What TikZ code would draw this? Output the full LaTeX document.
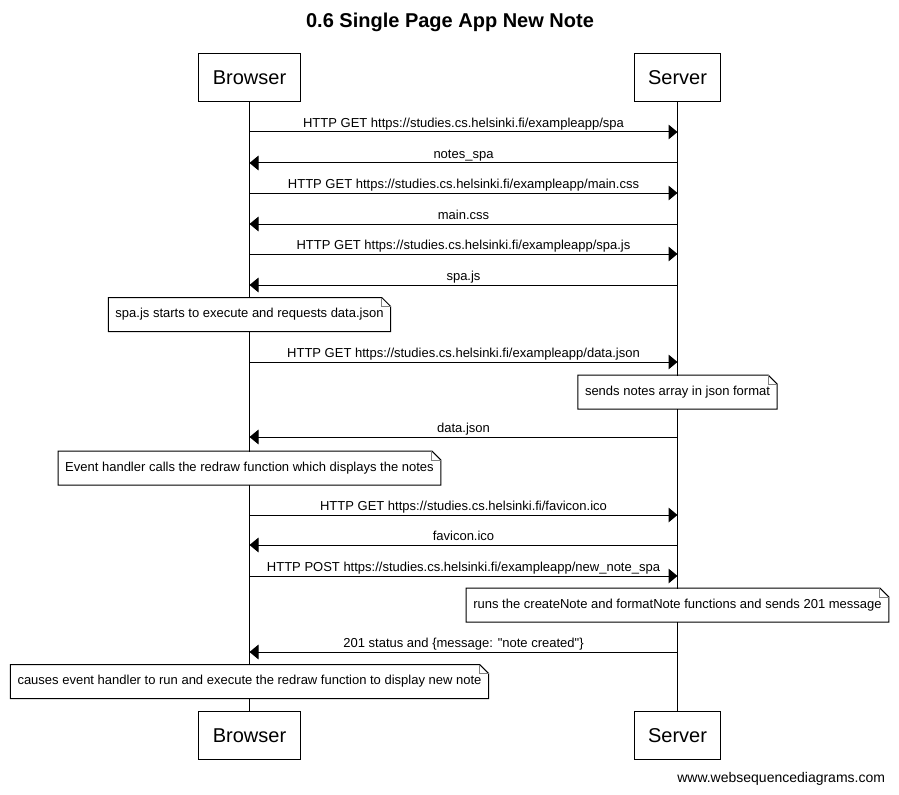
\documentclass[tikz,border=0pt]{standalone}
\usepackage{fontspec}
\setmainfont{Liberation Sans}
\usetikzlibrary{arrows.meta, calc, positioning}
\tikzset{
 actor/.style={draw, rectangle, minimum height=36pt, inner xsep=10.5pt, font=\fontsize{15}{18}\selectfont},
 note/.style={fill=white, rectangle, minimum height=24.75pt, inner xsep=5pt, font=\fontsize{9.75}{12}\selectfont},
 msg/.style={-{Triangle[length=6.75pt,width=11pt]}},
 lbl/.style={above, inner sep=1pt, text depth=0.22em, font=\fontsize{9.75}{12}\selectfont}
}
\newcommand*{\dogear}[1]{%
 \draw (#1.north west) -- ($(#1.north east)+(-9,0)$) -- ($(#1.north east)+(0,9)$) -- (#1.south east) -- (#1.south west) -- cycle;
 \draw[gray] ($(#1.north east)+(-9,0)$) |- ($(#1.north east)+(0,9)$);
}

\begin{document}
\begin{tikzpicture}[x=0.75pt, y=-0.75pt, line width=0.75pt]
 \useasboundingbox (0,0) rectangle (899,795);
 \node[font=\bfseries\fontsize{15}{18}\selectfont] (title) at (450,22.5) {0.6 Single Page App New Note};
 \node[actor] (b) at (249.5,77.5) {Browser};
 \node[actor] (s) at (677.5,77.5) {Server};
 \node[actor] (bb) at (249.5,735.5) {Browser};
 \node[actor] (sb) at (677.5,735.5) {Server};
 \draw (b) -- (bb);
 \draw (s) -- (sb);
 % loading the page
 \draw[msg] (b |- 0,132) -- node[lbl] {HTTP GET https://studies.cs.helsinki.fi/exampleapp/spa} (s |- 0,132);
 \draw[msg] (s |- 0,163) -- node[lbl] {notes\_spa} (b |- 0,163);
 \draw[msg] (b |- 0,193) -- node[lbl] {HTTP GET https://studies.cs.helsinki.fi/exampleapp/main.css} (s |- 0,193);
 \draw[msg] (s |- 0,224) -- node[lbl] {main.css} (b |- 0,224);
 \draw[msg] (b |- 0,254) -- node[lbl] {HTTP GET https://studies.cs.helsinki.fi/exampleapp/spa.js} (s |- 0,254);
 \draw[msg] (s |- 0,285) -- node[lbl] {spa.js} (b |- 0,285);
 \node[note] (n1) at (249.5,314.5) {spa.js starts to execute and requests data.json};
 \dogear{n1}
 \draw[msg] (b |- 0,362) -- node[lbl] {HTTP GET https://studies.cs.helsinki.fi/exampleapp/data.json} (s |- 0,362);
 \node[note] (n2) at (677.5,392) {sends notes array in json format};
 \dogear{n2}
 \draw[msg] (s |- 0,437) -- node[lbl] {data.json} (b |- 0,437);
 \node[note] (n3) at (249.5,468) {Event handler calls the redraw function which displays the notes};
 \dogear{n3}
 \draw[msg] (b |- 0,515) -- node[lbl] {HTTP GET https://studies.cs.helsinki.fi/favicon.ico} (s |- 0,515);
 \draw[msg] (s |- 0,545) -- node[lbl] {favicon.ico} (b |- 0,545);
 % new note
 \draw[msg] (b |- 0,576) -- node[lbl] {HTTP POST https://studies.cs.helsinki.fi/exampleapp/new\_note\_spa} (s |- 0,576);
 \node[note] (n4) at (677.5,605) {runs the createNote and formatNote functions and sends 201 message};
 \dogear{n4}
 \draw[msg] (s |- 0,652) -- node[lbl] {201 status and \{message: \textquotedbl note created\textquotedbl\}} (b |- 0,652);
 \node[note] (n5) at (249.5,681.5) {causes event handler to run and execute the redraw function to display new note};
 \dogear{n5}
 \node[anchor=east, font=\fontsize{10.5}{12}\selectfont] (credit) at (890,779) {www.websequencediagrams.com};
\end{tikzpicture}
\end{document}
